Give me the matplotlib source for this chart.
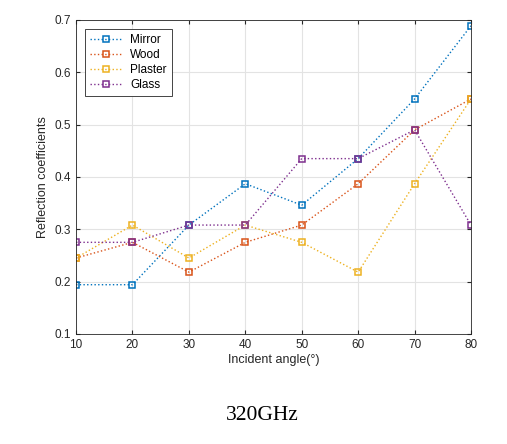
import matplotlib
matplotlib.use("Agg")
import matplotlib.pyplot as plt

# incident angles (degrees)
angles = [10, 20, 30, 40, 50, 60, 70, 80]

# reflection coefficients
mirror = [0.194, 0.194, 0.308, 0.387, 0.346, 0.435, 0.549, 0.689]
wood = [0.245, 0.275, 0.218, 0.275, 0.308, 0.387, 0.490, 0.549]
plaster = [0.245, 0.308, 0.245, 0.308, 0.275, 0.218, 0.387, 0.549]
glass = [0.275, 0.275, 0.308, 0.308, 0.435, 0.435, 0.490, 0.308]

names = ['Mirror', 'Wood', 'Plaster', 'Glass']
colors = ['#0072BD', '#D95319', '#EDB120', '#7E2F8E']

plt.rcParams['font.family'] = ['Liberation Sans', 'DejaVu Sans']

fig = plt.figure(figsize=(5.07, 4.44), dpi=100)
ax = fig.add_axes([0.15, 0.248, 0.779, 0.707])

for vals, name, c in zip([mirror, wood, plaster, glass], names, colors):
    ax.plot(angles, vals, linestyle=':', color=c, linewidth=1.0,
            marker='s', markersize=5, markerfacecolor='none',
            markeredgewidth=1.1, label=name)

ax.set_xlim(10, 80)
ax.set_ylim(0.1, 0.7)
ax.set_xticks(angles)
ax.set_yticks([0.1, 0.2, 0.3, 0.4, 0.5, 0.6, 0.7])
ax.grid(True, color='#e3e3e3', linewidth=0.8)
ax.tick_params(direction='in', top=True, right=True, labelsize=8.5,
               colors='#262626', length=3)
for s in ax.spines.values():
    s.set_color('#262626')
    s.set_linewidth(0.6)
ax.set_xlabel('Incident angle(°)', fontsize=9, color='#262626', labelpad=2)
ax.set_ylabel('Reflection coefficients', fontsize=9, color='#262626', labelpad=4)

leg = ax.legend(loc='upper left', fontsize=8.5, fancybox=False,
                edgecolor='#262626', framealpha=1, handlelength=2.6,
                borderpad=0.4, labelspacing=0.25, borderaxespad=0.8)
leg.get_frame().set_linewidth(0.6)

fig.text(0.517, 0.065, '320GHz', ha='center', va='center', fontsize=15.5,
         family=['Liberation Serif', 'DejaVu Serif'])

fig.savefig('out.png', dpi=100)
